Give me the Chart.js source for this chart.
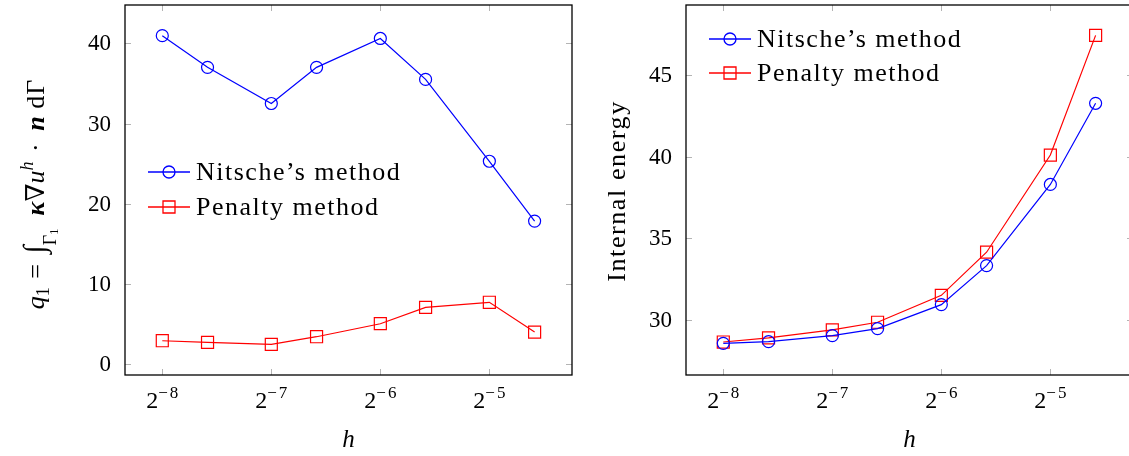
<!DOCTYPE html>
<html>
<head>
<meta charset="utf-8">
<script src="https://cdn.jsdelivr.net/npm/chart.js@4.4.1/dist/chart.umd.min.js"></script>
<style>
    html, body { margin: 0; padding: 0; background: #fff; overflow: hidden; width: 1129px; height: 456px; }
    canvas { position: absolute; top: 0; }
    #fluxChart { left: 0; }
    #energyChart { left: 580px; }
</style>
</head>
<body>
<canvas id="fluxChart" width="580" height="456"></canvas>
<canvas id="energyChart" width="553" height="456"></canvas>
<script>
// mesh sizes h
const meshH = [1 / 256, 1 / 192, 1 / 128, 1 / 96, 1 / 64, 1 / 48, 1 / 32, 1 / 24];
const xTicks = [1 / 256, 1 / 128, 1 / 64, 1 / 32];

const fluxNitsche = [40.95, 37.0, 32.5, 37.0, 40.6, 35.5, 25.3, 17.85];
const fluxPenalty = [2.94, 2.74, 2.49, 3.44, 5.06, 7.1, 7.73, 4.02];
const fluxTicks = [0, 10, 20, 30, 40];

const energyNitsche = [28.57, 28.67, 29.04, 29.47, 30.94, 33.33, 38.3, 43.27];
const energyPenalty = [28.65, 28.9, 29.39, 29.86, 31.51, 34.15, 40.1, 47.43];
const energyTicks = [30, 35, 40, 45];

const seriesNames = ['Nitsche\u2019s method', 'Penalty method'];

const SERIF = '"Liberation Serif", "DejaVu Serif", serif';
const BLUE = '#0000ff';
const RED = '#ff0000';

function toPoints (ys) {
    return meshH.map((x, i) => ({ x: x, y: ys[i] }));
}

// draw a row of text pieces (font, offset) one after another
function drawRich (ctx, parts, x, y, align) {
    let total = 0;
    parts.forEach(p => {
        ctx.font = p.font;
        ctx.letterSpacing = p.ls || '0px';
        p.w = ctx.measureText(p.t).width;
        total += p.w;
    });
    let cx = align === 'center' ? x - total / 2 : x;
    ctx.textBaseline = 'alphabetic';
    ctx.textAlign = 'left';
    parts.forEach(p => {
        ctx.font = p.font;
        ctx.letterSpacing = p.ls || '0px';
        ctx.fillText(p.t, cx, y + (p.dy || 0));
        cx += p.w;
    });
    ctx.letterSpacing = '0px';
}

const framePlugin = {
    id: 'frame',
    afterDraw (chart, args, opts) {
        const ctx = chart.ctx;
        const a = chart.chartArea;
        const xs = chart.scales.x;
        const ys = chart.scales.y;
        ctx.save();

        // inward tick marks
        ctx.strokeStyle = '#b4b4b4';
        ctx.lineWidth = 1;
        ctx.beginPath();
        xTicks.forEach(v => {
            const px = Math.round(xs.getPixelForValue(v)) + 0.5;
            ctx.moveTo(px, a.top); ctx.lineTo(px, a.top + 6);
            ctx.moveTo(px, a.bottom); ctx.lineTo(px, a.bottom - 6);
        });
        opts.yTicks.forEach(v => {
            const py = Math.round(ys.getPixelForValue(v)) + 0.5;
            ctx.moveTo(a.left, py); ctx.lineTo(a.left + 6, py);
            ctx.moveTo(a.right, py); ctx.lineTo(a.right - 6, py);
        });
        ctx.stroke();

        // axis box
        ctx.strokeStyle = '#000';
        ctx.lineWidth = 1.3;
        ctx.strokeRect(a.left, a.top, a.right - a.left, a.bottom - a.top);

        // x tick labels 2^{-k}
        ctx.fillStyle = '#000';
        xTicks.forEach(v => {
            const px = xs.getPixelForValue(v);
            drawRich(ctx, [
                { t: '2', font: '24px ' + SERIF },
                { t: '\u2212', font: '17px ' + SERIF, dy: -10, ls: '2px' },
                { t: String(-Math.round(Math.log2(v))), font: '17px ' + SERIF, dy: -10 }
            ], px, 408, 'center');
        });

        // y tick labels
        ctx.font = '23px ' + SERIF;
        ctx.textAlign = 'right';
        ctx.textBaseline = 'middle';
        opts.yTicks.forEach(v => {
            ctx.fillText(String(v), a.left - 14, ys.getPixelForValue(v) + 1);
        });

        // x title
        ctx.font = 'italic 25px ' + SERIF;
        ctx.textAlign = 'center';
        ctx.textBaseline = 'alphabetic';
        ctx.fillText('h', (a.left + a.right) / 2, 447);

        // y title, rotated
        ctx.save();
        ctx.translate(opts.titleX, opts.titleY);
        ctx.rotate(-Math.PI / 2);
        drawRich(ctx, opts.title, 0, 0, 'center');
        ctx.restore();

        // legend
        const lg = opts.legend;
        chart.data.datasets.forEach((ds, i) => {
            const y = lg.y + i * lg.gap;
            ctx.strokeStyle = ds.borderColor;
            ctx.lineWidth = 1.5;
            ctx.beginPath();
            ctx.moveTo(lg.x, y); ctx.lineTo(lg.x + 42, y);
            ctx.stroke();
            ctx.lineWidth = 1.3;
            ctx.beginPath();
            if (ds.pointStyle === 'circle') {
                ctx.arc(lg.x + 21, y, 6, 0, Math.PI * 2);
            } else {
                ctx.rect(lg.x + 15, y - 6, 12, 12);
            }
            ctx.stroke();
            ctx.fillStyle = '#000';
            ctx.font = '26px ' + SERIF;
            ctx.letterSpacing = '1.5px';
            ctx.textAlign = 'left';
            ctx.textBaseline = 'middle';
            ctx.fillText(ds.label, lg.x + 48, y + 1);
            ctx.letterSpacing = '0px';
        });
        ctx.restore();
    }
};

function makeChart (canvasId, nitsche, penalty, yTicks, yMin, yMax, yWidth, padRight, plugOpts) {
    const ctx = document.getElementById(canvasId).getContext('2d');
    return new Chart(ctx, {
        type: 'line',
        data: {
            datasets: [{
                label: seriesNames[0],
                data: toPoints(nitsche),
                borderColor: BLUE,
                backgroundColor: 'rgba(0,0,0,0)',
                borderWidth: 1.2,
                pointStyle: 'circle',
                pointRadius: 6,
                pointBorderWidth: 1.2,
                pointBackgroundColor: 'rgba(0,0,0,0)',
                tension: 0
            }, {
                label: seriesNames[1],
                data: toPoints(penalty),
                borderColor: RED,
                backgroundColor: 'rgba(0,0,0,0)',
                borderWidth: 1.2,
                pointStyle: 'rect',
                pointRadius: 8.5,
                pointBorderWidth: 1.2,
                pointBackgroundColor: 'rgba(0,0,0,0)',
                tension: 0
            }]
        },
        options: {
            responsive: false,
            animation: false,
            events: [],
            layout: {
                autoPadding: false,
                padding: { top: 5, right: padRight, left: 0, bottom: 0 }
            },
            plugins: {
                legend: { display: false },
                tooltip: { enabled: false },
                frame: plugOpts
            },
            scales: {
                x: {
                    type: 'logarithmic',
                    min: Math.pow(2, -8.342),
                    max: Math.pow(2, -4.242),
                    grid: { display: false, drawTicks: false },
                    border: { display: false },
                    ticks: { display: false },
                    afterBuildTicks: scale => { scale.ticks = xTicks.map(v => ({ value: v })); },
                    afterFit: scale => { scale.height = 81; }
                },
                y: {
                    min: yMin,
                    max: yMax,
                    grid: { display: false, drawTicks: false },
                    border: { display: false },
                    ticks: { display: false },
                    afterBuildTicks: scale => { scale.ticks = yTicks.map(v => ({ value: v })); },
                    afterFit: scale => { scale.width = yWidth; }
                }
            }
        },
        plugins: [framePlugin]
    });
}

const big = '26px ' + SERIF;
const small = '18px ' + SERIF;
const fluxTitle = [
    { t: 'q', font: 'italic ' + big },
    { t: '1', font: small, dy: 5 },
    { t: ' = ', font: big, ls: '2px' },
    { t: '\u222B', font: '30px ' + SERIF },
    { t: '\u0393', font: small, dy: 12 },
    { t: '1', font: '13px ' + SERIF, dy: 14 },
    { t: '  \u03BA', font: 'bold italic ' + big },
    { t: '\u2207', font: big },
    { t: 'u', font: 'italic ' + big },
    { t: 'h', font: 'italic ' + small, dy: -11 },
    { t: ' \u00B7 ', font: big, ls: '3px' },
    { t: 'n', font: 'bold italic ' + big },
    { t: ' d\u0393', font: big, ls: '1px' }
];

makeChart('fluxChart', fluxNitsche, fluxPenalty, fluxTicks, -1.33, 44.77, 125, 8, {
    yTicks: fluxTicks,
    titleX: 44,
    titleY: 194,
    title: fluxTitle,
    legend: { x: 148, y: 172, gap: 35 }
});

makeChart('energyChart', energyNitsche, energyPenalty, energyTicks, 26.63, 49.29, 106, 0, {
    yTicks: energyTicks,
    titleX: 45,
    titleY: 191,
    title: [{ t: 'Internal energy', font: big, ls: '1.6px' }],
    legend: { x: 129, y: 39, gap: 34 }
});
</script>
</body>
</html>
